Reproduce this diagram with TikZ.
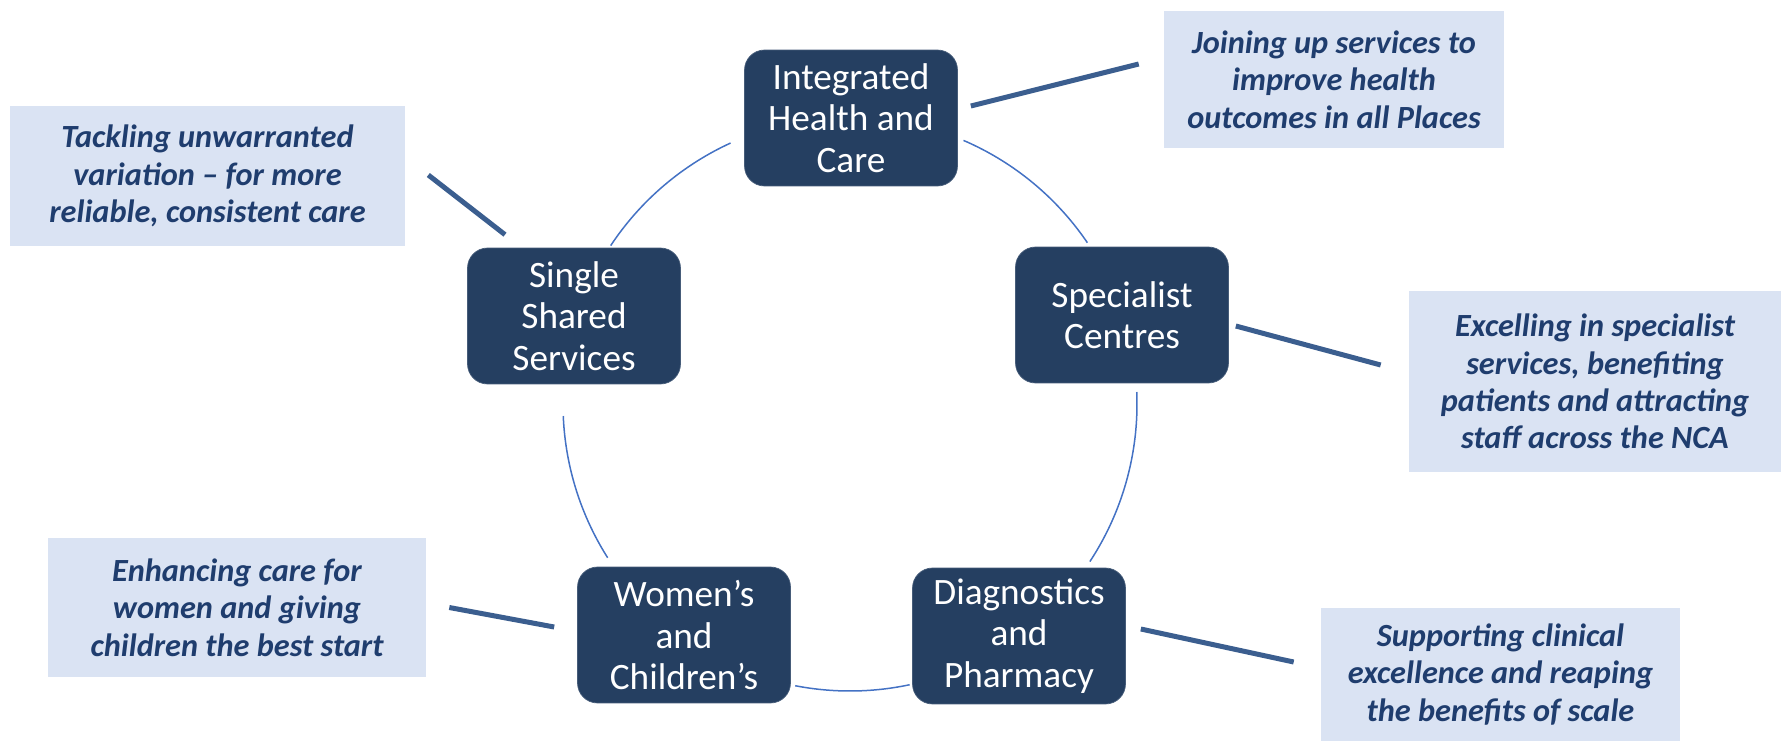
\documentclass[tikz,border=0pt]{standalone}
\usepackage{fontspec}
\setmainfont{Carlito}
\usepackage{tikz}
\usetikzlibrary{calc}

\definecolor{areanavy}{HTML}{253F61}
\definecolor{aimfill}{HTML}{DAE3F3}
\definecolor{aimtext}{HTML}{1F3D6E}
\definecolor{linkblue}{HTML}{3B5E8F}
\definecolor{ringblue}{HTML}{4472C4}

\begin{document}
\begin{tikzpicture}[x=0.02cm, y=-0.02cm,
    area/.style={fill=areanavy, draw=areanavy!85!white, rounded corners=0.4cm, minimum width=4.26cm, minimum height=2.72cm, align=center, text=white, inner sep=0pt, font=\fontsize{21.2}{23.6}\selectfont},
    aim/.style={fill=aimfill, align=center, text=aimtext, inner sep=0pt, font=\fontsize{18.4}{21.3}\selectfont\bfseries\itshape},
    link/.style={linkblue, line width=0.1cm},
    ring/.style={ringblue, line width=0.03cm}]
            \useasboundingbox (0,0) rectangle (1783,741);

            \coordinate (hub) at (850,404); % centre of the ring

            \node[area] (ihc) at (851,118) {Integrated\\Health and\\Care};
            \node[area] (spc) at (1122,315) {Specialist\\Centres};
            \node[area] (dap) at (1019,636) {Diagnostics\\and\\Pharmacy};
            \node[area] (wac) at (684,635) {Women’s\\and\\Children’s};
            \node[area] (sss) at (574,316) {Single\\Shared\\Services};

            \node[aim, minimum width=6.8cm, minimum height=2.74cm] (joining) at (1334,79.5) {Joining up services to\\improve health\\outcomes in all Places};
            \node[aim, minimum width=7.9cm, minimum height=2.8cm] (tackling) at (207.5,176) {Tackling unwarranted\\variation – for more\\reliable, consistent care};
            \node[aim, minimum width=7.44cm, minimum height=3.62cm] (excelling) at (1595,381.5) {Excelling in specialist\\services, benefiting\\patients and attracting\\staff across the NCA};
            \node[aim, minimum width=7.56cm, minimum height=2.78cm] (enhancing) at (237,607.5) {Enhancing care for\\women and giving\\children the best start};
            \node[aim, minimum width=7.18cm, minimum height=2.66cm] (supporting) at (1500.5,674.5) {Supporting clinical\\excellence and reaping\\the benefits of scale};

            % ring between the areas
            \foreach \a/\b in {-66.7/-34.2, -114.6/-146.5, 177.6/147.6, 101/78, -2.4/33.3}
                \draw[ring] plot[domain=\a:\b, samples=40] ({850+287*cos(\x)},{404+287*sin(\x)});

            \draw[link] ([shift={(13,-12)}]ihc.east) -- ([shift={(-25,-15.5)}]joining.west); % IHC
            \draw[link] ([shift={(23,-1)}]tackling.east) -- ([shift={(-69,-13)}]sss.north); % SSS
            \draw[link] ([shift={(7,11)}]spc.east) -- ([shift={(-28,-16.5)}]excelling.west); % SC
            \draw[link] ([shift={(23,0)}]enhancing.east) -- ([shift={(-23,-8)}]wac.west); % WC
            \draw[link] ([shift={(15,-7)}]dap.east) -- ([shift={(-27,-12.5)}]supporting.west); % DP

        \end{tikzpicture}
\end{document}
